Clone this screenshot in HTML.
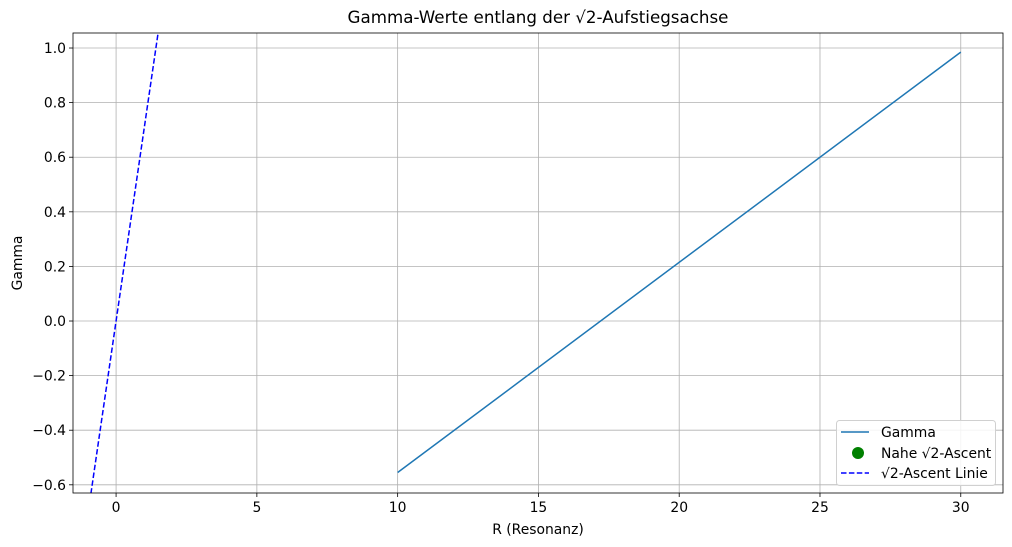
<!DOCTYPE html>
<html><head><meta charset="utf-8"><style>
html,body{margin:0;padding:0;background:#fff;overflow:hidden;width:1012px;height:547px;}
svg{display:block;}
</style></head><body>
<svg id="chart" width="1012" height="547" xmlns="http://www.w3.org/2000/svg" font-family="DejaVu Sans, Liberation Sans, sans-serif"></svg>
<script>
const xTicks=[0,5,10,15,20,25,30];
const yTicks=[-0.6,-0.4,-0.2,0.0,0.2,0.4,0.6,0.8,1.0];
const gammaX=[10,30];
const gammaY=[-0.555,0.985];
const ascentSlope=[0.7071];
const xDomain=[-1.53,31.5];
const yDomain=[-0.63,1.055];
const L=73,R=1003,T=33,B=493;
const sx=v=>L+(v-xDomain[0])/(xDomain[1]-xDomain[0])*(R-L);
const sy=v=>B-(v-yDomain[0])/(yDomain[1]-yDomain[0])*(B-T);
const svg=document.getElementById('chart');
const NS='http://www.w3.org/2000/svg';
function mk(tag,attrs,parent){const e=document.createElementNS(NS,tag);for(const k in attrs)e.setAttribute(k,attrs[k]);(parent||svg).appendChild(e);return e;}
const clip=mk('clipPath',{id:'cp'});mk('rect',{x:L,y:T,width:R-L,height:B-T},clip);
const grid=mk('g',{});


xTicks.forEach(t=>{const x=sx(t);
 mk('line',{x1:x,x2:x,y1:T,y2:B,stroke:'#b0b0b0','stroke-width':0.8},grid);
 mk('line',{x1:x,x2:x,y1:B,y2:B+4,stroke:'#000','stroke-width':0.8});
 const tx=mk('text',{x:x,y:B+19,'font-size':13.9,'text-anchor':'middle'});tx.textContent=t;
 
 
});
yTicks.forEach(t=>{const y=sy(t);
 mk('line',{x1:L,x2:R,y1:y,y2:y,stroke:'#b0b0b0','stroke-width':0.8},grid);
 mk('line',{x1:L-4,x2:L,y1:y,y2:y,stroke:'#000','stroke-width':0.8});
 const tx=mk('text',{x:L-7,y:y+5,'font-size':13.9,'text-anchor':'end'});tx.textContent=(t<0?'−':'')+Math.abs(t).toFixed(1);
 
 
});
const g=mk('polyline',{points:gammaX.map((x,i)=>sx(x)+','+sy(gammaY[i])).join(' '),fill:'none',stroke:'#1f77b4','stroke-width':1.5,'clip-path':'url(#cp)'});


const ax0=-3,ax1=3;
const d=mk('line',{x1:sx(ax0),y1:sy(ascentSlope[0]*ax0),x2:sx(ax1),y2:sy(ascentSlope[0]*ax1),stroke:'#0000ff','stroke-width':1.5,'stroke-dasharray':'5.5,2.4','clip-path':'url(#cp)'});


const fr=mk('rect',{x:L,y:T,width:R-L,height:B-T,fill:'none',stroke:'#000','stroke-width':0.8});


const title=mk('text',{x:(L+R)/2,y:23,'font-size':16.7,'text-anchor':'middle'});title.textContent='Gamma-Werte entlang der √2-Aufstiegsachse';


const xl=mk('text',{x:(L+R)/2,y:534,'font-size':13.9,'text-anchor':'middle'});xl.textContent='R (Resonanz)';


const yl=mk('text',{x:22,y:(T+B)/2,'font-size':13.9,'text-anchor':'middle',transform:'rotate(-90 22 '+((T+B)/2)+')'});yl.textContent='Gamma';


const lg=mk('g',{});


mk('rect',{x:836.5,y:420.5,width:159,height:65,rx:3,fill:'#fff','fill-opacity':0.85,stroke:'#d0d0d0'},lg);
mk('line',{x1:841,x2:869,y1:432,y2:432,stroke:'#1f77b4','stroke-width':1.5},lg);
mk('circle',{cx:858,cy:453,r:6,fill:'green'},lg);
mk('line',{x1:841,x2:869,y1:473,y2:473,stroke:'#0000ff','stroke-width':1.5,'stroke-dasharray':'5.5,2.4'},lg);
[['Gamma',437],['Nahe √2-Ascent',458],['√2-Ascent Linie',478]].forEach(([s,y])=>{const t=mk('text',{x:881,y:y,'font-size':13.9},lg);t.textContent=s;
 
 });
</script>
</body></html>
